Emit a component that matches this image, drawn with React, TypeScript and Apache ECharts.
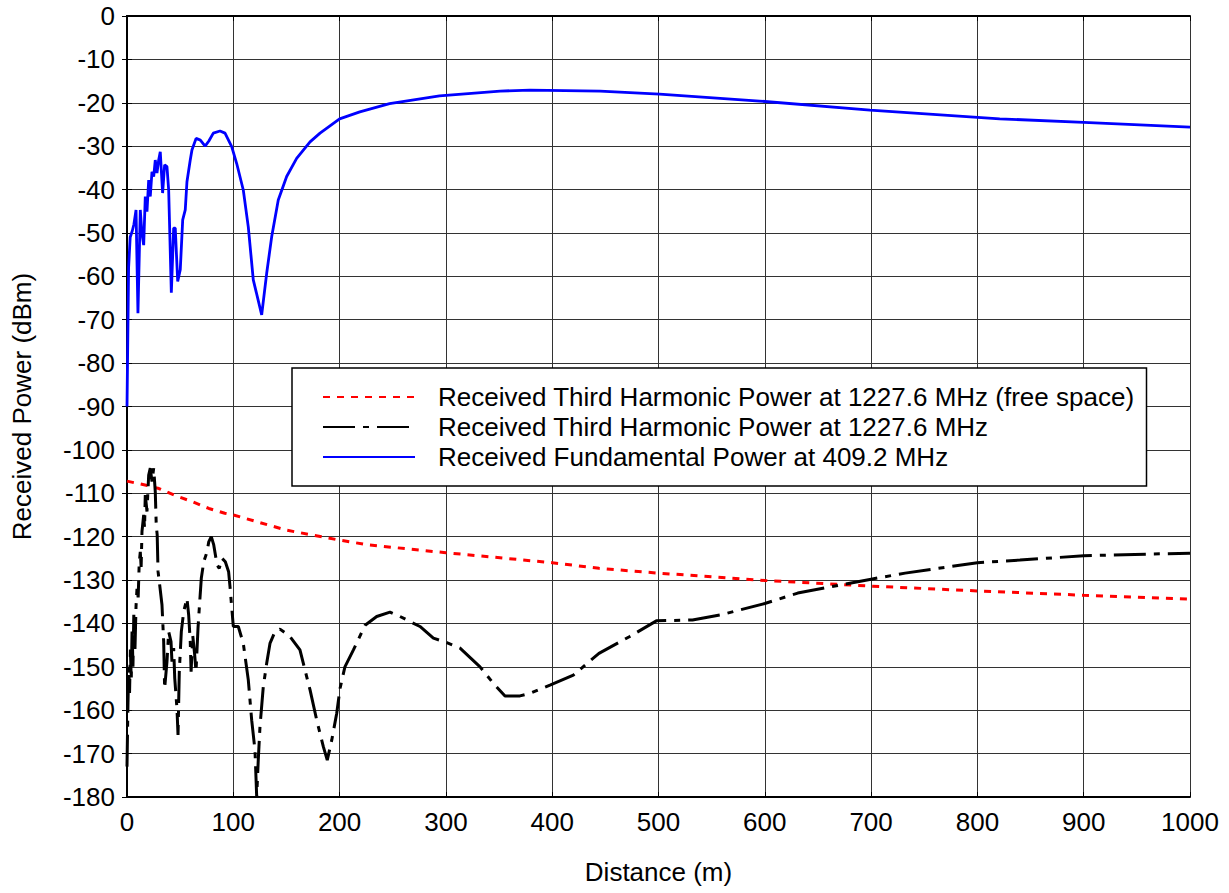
import React, { useEffect, useRef } from "react";
import * as echarts from "echarts";

// Received Fundamental Power at 409.2 MHz (blue)
const fundX = [0, 1.5, 3, 5, 6.5, 8.5, 10.3, 12.5, 14, 15.7, 17.2, 18.8, 20.4, 21.9, 23.5, 25.1, 26.6, 28.2, 29.8, 31.3, 33.5, 35.4, 37.6, 39.2, 41.7, 43.9, 45.4, 47.7, 50.1, 52.4, 54.8, 56.4, 59.5, 61.1, 65, 69, 73.5, 77, 81.2, 87.5, 92.2, 98.5, 103.2, 109.4, 114.1, 118.8, 126.7, 131.4, 136.1, 142.3, 150.2, 159.6, 172.2, 181.6, 200, 219, 247, 294, 351, 379, 445, 501, 595, 699, 821, 900, 1000];
const fundY = [-90, -58, -51, -49.5, -48, -44.7, -68.5, -44.7, -50, -52.8, -41.6, -45.1, -37.8, -41.6, -35.9, -37, -33.2, -36.2, -33.2, -31.3, -40.8, -34.3, -34.7, -40.1, -63.8, -48.9, -48.9, -61.2, -58.5, -47, -44.7, -38.2, -33.2, -30.9, -28.2, -28.6, -30, -28.8, -27, -26.5, -27, -30.1, -34, -40.1, -48.6, -60.8, -68.9, -59.3, -50.9, -42.4, -37, -32.8, -29, -27, -23.7, -22.1, -20.2, -18.4, -17.3, -17.1, -17.3, -18, -19.6, -21.7, -23.7, -24.5, -25.6];

// Received Third Harmonic Power at 1227.6 MHz (black dash-dot)
const thirdX = [0, 0.8, 1.6, 2.4, 3.2, 4, 4.8, 5.6, 6.4, 7.5, 8.5, 9.4, 10.5, 11.5, 12.5, 13.3, 14.1, 15.7, 16.5, 17.2, 18.8, 20.4, 21.9, 23.5, 25.1, 26.6, 27.5, 28.4, 29.2, 30.4, 32.9, 34.5, 35.4, 37.6, 39.2, 41.4, 42.3, 43.9, 44.9, 47, 48, 49.2, 51.1, 53.3, 56.4, 58, 59.5, 60.3, 61.8, 63.7, 64.9, 66.8, 68, 69.9, 72.2, 75.3, 76.9, 79.3, 81.6, 84.7, 86.8, 89.4, 92.5, 95.6, 96.9, 100, 104.7, 109.4, 114.1, 117.3, 120.4, 122, 123.5, 125.1, 128.2, 131.4, 134.5, 139.2, 143.9, 153.3, 162.7, 167.4, 172.2, 178.5, 184.7, 188.4, 192.6, 197.3, 200.4, 205, 213, 224, 234.9, 247.4, 256.8, 275.6, 288.2, 300.8, 313.3, 332.1, 344.6, 355.6, 369.7, 379.1, 397.9, 419.9, 444, 473, 498, 532, 559, 600, 631, 700, 732, 800, 840, 900, 948, 1000];
const thirdY = [-173, -160, -150, -156, -146, -153, -141, -150, -138, -146, -136, -132, -134, -126, -123.5, -127, -118.8, -115, -118, -110.4, -114.2, -105.8, -104.2, -107.3, -104.2, -109.6, -117.3, -119.6, -128, -130.4, -135.7, -144.2, -155, -148.8, -141.9, -144.2, -148.8, -145.7, -152.6, -159.6, -165.7, -151.1, -141.9, -137.3, -134.2, -138, -144.2, -151.1, -142.7, -147.3, -151.1, -141.1, -136.5, -129.6, -125.8, -123.5, -121.2, -120, -121.9, -126.5, -127.3, -125, -125.8, -128.1, -131.5, -140.7, -140.7, -144.6, -153, -162.3, -169.2, -179.9, -171.4, -163.8, -154.6, -149.2, -144.6, -141.9, -141.3, -143, -146.1, -150.7, -155.3, -162.3, -168.4, -171.5, -166.9, -160.7, -155, -150, -146.1, -140.4, -138.4, -137.4, -138.4, -140.7, -143.4, -144.4, -145.7, -150, -153.8, -156.7, -156.7, -156.1, -154.2, -151.9, -146.9, -143, -139.4, -139.2, -138, -135.4, -133, -129.8, -128.4, -126, -125.4, -124.4, -124.1, -123.8];

// Received Third Harmonic Power at 1227.6 MHz (free space) (red dotted)
const freeX = [0, 17, 30, 45, 61, 77, 92, 100, 150, 200, 227, 300, 400, 444, 500, 600, 700, 800, 900, 1000];
const freeY = [-107.2, -108.1, -108.9, -110.5, -111.9, -113.5, -114.6, -115, -118.5, -120.8, -121.9, -123.7, -126, -127.3, -128.4, -130.1, -131.4, -132.5, -133.5, -134.4];

const xTicks = { min: 0, max: 1000, interval: 100 };
const yTicks = { min: -180, max: 0, interval: 10 };

const seriesNames = [
  "Received Third Harmonic Power at 1227.6 MHz (free space)",
  "Received Third Harmonic Power at 1227.6 MHz",
  "Received Fundamental Power at 409.2 MHz",
];

const zip = (xs: number[], ys: number[]) => xs.map((x, i) => [x, ys[i]]);

const FONT = "'Liberation Sans', Arial, Helvetica, sans-serif";

export default function App() {
  const ref = useRef<HTMLDivElement>(null);
  useEffect(() => {
    if (!ref.current) return;
    const chart = echarts.init(ref.current, undefined, { renderer: "svg" });
    const frameAxis = {
      axisLine: { show: true, lineStyle: { color: "#000", width: 2 } },
      axisTick: { show: true, inside: true, length: 5, lineStyle: { color: "#000", width: 1 } },
      axisLabel: { show: false },
      splitLine: { show: false },
    };
    chart.setOption({
      animation: false,
      backgroundColor: "#fff",
      textStyle: { fontFamily: FONT, color: "#000" },
      grid: { left: 127, right: 39, top: 16, bottom: 96, containLabel: false },
      xAxis: [
        {
          type: "value",
          position: "bottom",
          ...xTicks,
          name: "Distance (m)",
          nameLocation: "middle",
          nameGap: 62,
          nameTextStyle: { fontSize: 26, color: "#000", fontFamily: FONT },
          axisLine: { show: true, onZero: false, lineStyle: { color: "#000", width: 2 } },
          axisTick: { show: true, inside: true, length: 5, lineStyle: { color: "#000" } },
          axisLabel: { fontSize: 26, color: "#000", margin: 12, fontFamily: FONT, formatter: (v: number) => String(v) },
          splitLine: { show: true, lineStyle: { color: "#333", width: 1 } },
        },
        { type: "value", position: "top", ...xTicks, ...frameAxis },
      ],
      yAxis: [
        {
          type: "value",
          position: "left",
          ...yTicks,
          name: "Received Power (dBm)",
          nameLocation: "middle",
          nameGap: 92,
          nameTextStyle: { fontSize: 26, color: "#000", fontFamily: FONT },
          axisLine: { show: true, onZero: false, lineStyle: { color: "#000", width: 2 } },
          axisTick: { show: true, inside: true, length: 5, lineStyle: { color: "#000" } },
          axisLabel: { fontSize: 26, color: "#000", margin: 12, fontFamily: FONT, formatter: (v: number) => String(v) },
          splitLine: { show: true, lineStyle: { color: "#333", width: 1 } },
        },
        { type: "value", position: "right", ...yTicks, ...frameAxis },
      ],
      legend: {
        orient: "vertical",
        left: 292,
        top: 368,
        data: seriesNames,
        itemWidth: 92,
        itemHeight: 14,
        itemGap: 4,
        padding: [16, 12, 16, 30],
        borderColor: "#000",
        borderWidth: 1.5,
        backgroundColor: "#fff",
        selectedMode: false,
        itemStyle: { opacity: 0 },
        textStyle: { fontSize: 26, color: "#000", fontFamily: FONT, padding: [0, 0, 0, 18] },
      },
      series: [
        {
          name: seriesNames[0],
          type: "line",
          data: zip(freeX, freeY),
          symbol: "none",
          lineStyle: { color: "#ff0000", width: 3, type: [7, 7] },
          itemStyle: { color: "#ff0000" },
          z: 3,
        },
        {
          name: seriesNames[1],
          type: "line",
          data: zip(thirdX, thirdY),
          symbol: "none",
          lineStyle: { color: "#000", width: 3, type: [32, 8, 6, 8] },
          itemStyle: { color: "#000" },
          z: 4,
        },
        {
          name: seriesNames[2],
          type: "line",
          data: zip(fundX, fundY),
          symbol: "none",
          lineStyle: { color: "#0000ff", width: 2.8 },
          itemStyle: { color: "#0000ff" },
          z: 5,
        },
      ],
    });
    return () => chart.dispose();
  }, []);
  return (
    <div
      ref={ref}
      style={{ position: "absolute", left: 0, top: 0, width: 1229, height: 893 }}
    />
  );
}
